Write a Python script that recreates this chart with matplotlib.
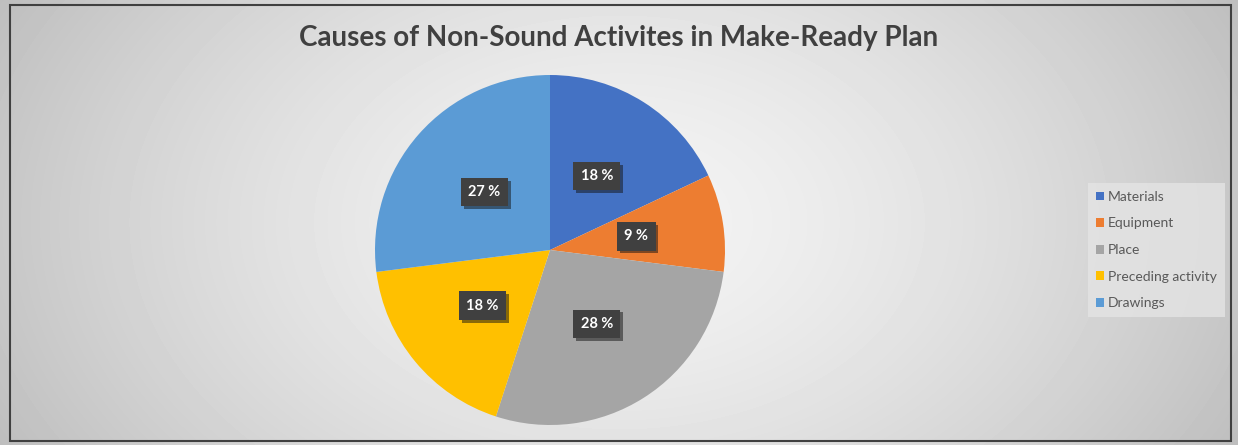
import numpy as np
import matplotlib.pyplot as plt
from matplotlib.patches import Rectangle
import matplotlib.patheffects as pe

categories = ["Materials", "Equipment", "Place", "Preceding activity", "Drawings"]
shares = [18, 9, 28, 18, 27]
colors = ["#4472C4", "#ED7D31", "#A5A5A5", "#FFC000", "#5B9BD5"]

plt.rcParams['font.family'] = ['Lato', 'DejaVu Sans']

fig = plt.figure(figsize=(12.38, 4.45), dpi=100)

# radial gradient background
bg = fig.add_axes([0, 0, 1, 1])
yy, xx = np.mgrid[0:445, 0:1238]
d = np.sqrt(((xx - 619) / 620.0) ** 2 + ((yy - 222) / 420.0) ** 2)
shade = np.clip(0.955 - 0.175 * d ** 1.5, 0, 1)
bg.imshow(shade, cmap="gray", vmin=0, vmax=1, aspect="auto", extent=[0, 1238, 445, 0])
bg.add_patch(Rectangle((10, 5), 1221, 436, fill=False, edgecolor="#404040", lw=1.5))
bg.set_xlim(0, 1238)
bg.set_ylim(445, 0)
bg.axis("off")

fig.text(0.5, 0.915, "Causes of Non-Sound Activites in Make-Ready Plan", ha="center", va="center",
         fontsize=20, fontweight="bold", color="#404040")

ax = fig.add_axes([(550 - 175) / 1238, 1 - (250 + 175) / 445, 350 / 1238, 350 / 445])
wedges, texts = ax.pie(shares, colors=colors, startangle=90, counterclock=False,
                       labels=[f"{v} %" for v in shares], labeldistance=0.5)
for t in texts:
    t.set_ha("center")
    t.set_va("center")
    t.set_color("white")
    t.set_fontweight("bold")
    t.set_fontsize(10.5)
    t.set_bbox(dict(boxstyle="square,pad=0.5", fc="#404040", ec="none",
                    path_effects=[pe.SimplePatchShadow(offset=(2, -2), alpha=0.5), pe.Normal()]))
ax.set_xlim(-1, 1)
ax.set_ylim(-1, 1)
ax.set_aspect("equal")

leg = fig.legend(wedges, categories, loc="center left", bbox_to_anchor=(1088 / 1238, 1 - 250 / 445),
                 frameon=True, fontsize=10, handlelength=0.6, handleheight=0.6,
                 handletextpad=0.3, labelspacing=1.05, borderpad=0.55, borderaxespad=0,
                 fancybox=False)
leg.get_frame().set_facecolor("#e4e4e4")
leg.get_frame().set_edgecolor("none")
for t in leg.get_texts():
    t.set_color("#595959")

fig.savefig("out.png", dpi=100)
